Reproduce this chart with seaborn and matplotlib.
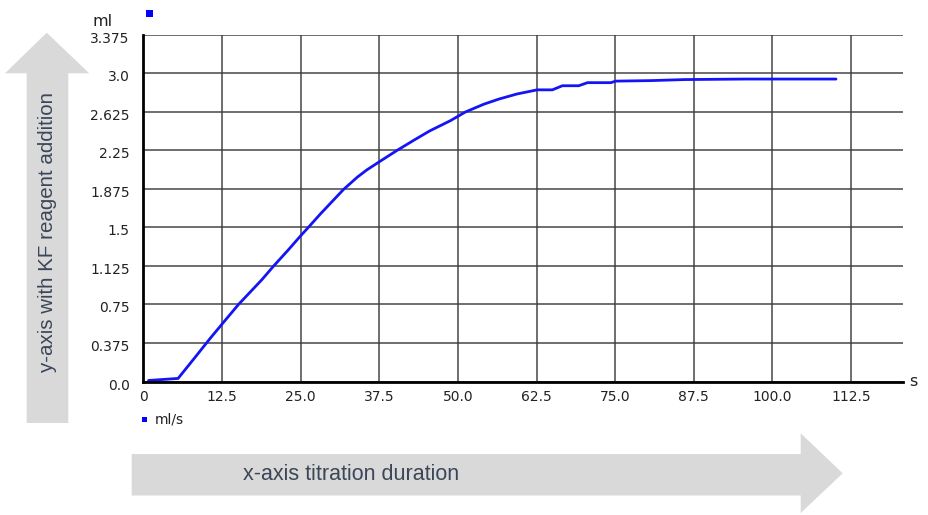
import matplotlib
matplotlib.use("Agg")
import matplotlib.pyplot as plt
import matplotlib.transforms as mtransforms
from matplotlib.patches import Polygon, Rectangle
import numpy as np
import pandas as pd
import seaborn as sns

# Titration curve: elapsed time (s) vs. KF reagent volume added (ml)
time_s = [0.8, 5.5, 8.0, 10.6, 12.5, 15.1, 18.8, 20.7, 23.0, 25.0, 26.2, 28.1,
          31.8, 34.0, 35.5, 37.5, 40.3, 43.0, 45.5, 48.8, 51.2, 54.1, 56.5, 59.4,
          62.6, 65.0, 66.6, 69.2, 70.6, 74.3, 75.1, 80.7, 86.0, 95.5, 110.1]
volume_ml = [0.01, 0.03, 0.22, 0.42, 0.56, 0.75, 0.99, 1.125, 1.28, 1.42, 1.50, 1.63,
             1.87, 1.99, 2.06, 2.14, 2.25, 2.35, 2.44, 2.54, 2.625, 2.70, 2.75, 2.80,
             2.84, 2.84, 2.88, 2.88, 2.91, 2.91, 2.925, 2.93, 2.94, 2.945, 2.945]

x_ticks = [0, 12.5, 25.0, 37.5, 50.0, 62.5, 75.0, 87.5, 100.0, 112.5]
x_tick_labels = ["0", "12.5", "25.0", "37.5", "50.0", "62.5", "75.0", "87.5", "100.0", "112.5"]
y_ticks = [0.0, 0.375, 0.75, 1.125, 1.5, 1.875, 2.25, 2.625, 3.0, 3.375]
y_tick_labels = ["0.0", "0.375", "0.75", "1.125", "1.5", "1.875", "2.25", "2.625", "3.0", "3.375"]

df = pd.DataFrame({"t": time_s, "ml": volume_ml})

sns.set_style("white")
plt.rcParams["font.family"] = ["DejaVu Sans"]

W, H = 929, 515
fig = plt.figure(figsize=(W / 100, H / 100), dpi=100)


def fx(px):
    return px / W


def fy(py):
    return 1 - py / H


ax = fig.add_axes([fx(143.5), fy(381.5), fx(903.3) - fx(143.5), fy(34.9) - fy(381.5)])

sns.lineplot(data=df, x="t", y="ml", ax=ax, color="#1414f5", linewidth=2.0,
             estimator=None, sort=False)

ax.set_xlim(0, 120.8)
ax.set_ylim(0, 3.375)
ax.set_xticks(x_ticks)
ax.set_xticklabels(x_tick_labels)
ax.set_yticks(y_ticks)
ax.set_yticklabels(y_tick_labels)
ax.set_xlabel("")
ax.set_ylabel("")

ax.grid(True, color="#3c3c3c", linewidth=1.3, alpha=0.8)
ax.set_axisbelow(True)
for side in ("top", "right"):
    ax.spines[side].set_visible(False)
for side in ("left", "bottom"):
    ax.spines[side].set_color("black")
    ax.spines[side].set_linewidth(2.0)
    ax.spines[side].set_zorder(3)

ax.tick_params(axis="y", length=3, width=1.2, color="#555555", pad=7,
               labelsize=10, labelcolor="#222222")
ax.tick_params(axis="x", length=0, pad=6, labelsize=10, labelcolor="#222222")

# nudge y tick labels slightly downward
offset = mtransforms.ScaledTranslation(0, -2.5 / 100, fig.dpi_scale_trans)
for lbl in ax.get_yticklabels():
    lbl.set_transform(lbl.get_transform() + offset)

# axis unit labels
fig.text(fx(93), fy(22), "ml", fontsize=11.5, color="#222222", ha="left", va="center")
fig.text(fx(909), fy(381), "s", fontsize=11.5, color="#222222", ha="left", va="center")

# small blue marker at the top of the plot
fig.patches.append(Rectangle((fx(146), fy(17)), fx(7), 7 / H, transform=fig.transFigure,
                             facecolor="#0000ff", edgecolor="none"))

# series key below the axis
fig.patches.append(Rectangle((fx(142), fy(422)), fx(5), 5 / H, transform=fig.transFigure,
                             facecolor="#0000ff", edgecolor="none"))
fig.text(fx(155), fy(419.5), "ml/s", fontsize=10, color="#222222", ha="left", va="center")

arrow_color = "#d9d9d9"
text_color = "#3b4658"

# vertical arrow (y-axis)
up_arrow = [(26.7, 423), (68.3, 423), (68.3, 73.3), (89.3, 73.3), (46.7, 32.7),
            (5, 73.3), (26.7, 73.3)]
fig.patches.append(Polygon([(fx(a), fy(b)) for a, b in up_arrow], closed=True,
                           transform=fig.transFigure, facecolor=arrow_color,
                           edgecolor="none"))
fig.text(fx(47.5), fy(232.5), "y-axis with KF reagent addition", rotation=90,
         fontsize=14.8, family="Liberation Sans", color=text_color,
         ha="center", va="center")

# horizontal arrow (x-axis)
right_arrow = [(131.7, 454), (800.7, 454), (800.7, 433.3), (842.7, 473.3),
               (800.7, 513), (800.7, 495.5), (131.7, 495.5)]
fig.patches.append(Polygon([(fx(a), fy(b)) for a, b in right_arrow], closed=True,
                           transform=fig.transFigure, facecolor=arrow_color,
                           edgecolor="none"))
fig.text(fx(243), fy(474), "x-axis titration duration", fontsize=15.5,
         family="Liberation Sans", color=text_color, ha="left", va="center")

fig.savefig("out.png", dpi=100, facecolor="white")
